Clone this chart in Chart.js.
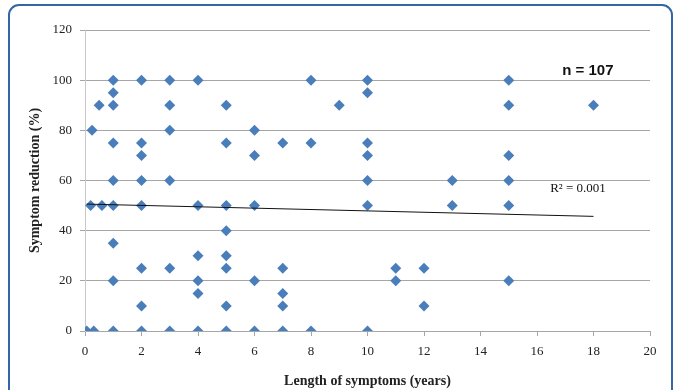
<!DOCTYPE html>
<html lang="en">
<head>
    <meta charset="UTF-8">
    <title>Symptom reduction vs length of symptoms</title>
    <style>
        * {
            margin: 0;
            padding: 0;
            box-sizing: border-box;
        }

        body {
            background-color: #fff;
            width: 676px;
            height: 390px;
            overflow: hidden;
            position: relative;
        }

        .frame {
            position: absolute;
            left: 8px;
            top: 4px;
            width: 665px;
            height: 420px;
            border: 2px solid #3465a4;
            border-radius: 11px;
        }

        canvas {
            position: absolute;
            left: 0;
            top: 0;
        }
    </style>
</head>
<body>
    <div class="frame"></div>
    <canvas id="scatterChart" width="676" height="390"></canvas>

    <script src="https://cdn.jsdelivr.net/npm/chart.js"></script>
    <script>
// years of symptoms and % symptom reduction
const lengthYears = [
    0.06, 0.31, 0.25, 0.2, 0.6, 0.5,
    1, 1, 1, 1, 1, 1, 1, 1, 1,
    2, 2, 2, 2, 2, 2, 2, 2,
    3, 3, 3, 3, 3, 3,
    4, 4, 4, 4, 4, 4,
    5, 5, 5, 5, 5, 5, 5, 5,
    6, 6, 6, 6, 6,
    7, 7, 7, 7, 7,
    8, 8, 8,
    9,
    10, 10, 10, 10, 10, 10, 10,
    11, 11,
    12, 12,
    13, 13,
    15, 15, 15, 15, 15, 15,
    18
];
const reduction = [
    0, 0, 80, 50, 50, 90,
    100, 95, 90, 75, 60, 50, 35, 20, 0,
    100, 75, 70, 60, 50, 25, 10, 0,
    100, 90, 80, 60, 25, 0,
    100, 50, 30, 20, 15, 0,
    90, 75, 50, 40, 30, 25, 10, 0,
    80, 70, 50, 20, 0,
    75, 25, 15, 10, 0,
    100, 75, 0,
    90,
    100, 95, 75, 70, 60, 50, 0,
    25, 20,
    25, 10,
    60, 50,
    100, 90, 70, 60, 50, 20,
    90
];

// linear trend line end points
const trendX = [0.06, 18];
const trendY = [50.6, 45.7];

const xTicks = [0, 2, 4, 6, 8, 10, 12, 14, 16, 18, 20];
const yTicks = [0, 20, 40, 60, 80, 100, 120];

const points = lengthYears.map((x, i) => ({ x: x, y: reduction[i] }));
const trend = trendX.map((x, i) => ({ x: x, y: trendY[i] }));

// text labels inside the plot
const notes = {
    id: 'notes',
    afterDatasetsDraw(chart) {
        const ctx = chart.ctx;
        const xs = chart.scales.x;
        const ys = chart.scales.y;
        ctx.save();
        ctx.fillStyle = '#111';
        ctx.textAlign = 'center';
        ctx.textBaseline = 'middle';
        ctx.font = 'bold 15px "Liberation Sans", Arial, sans-serif';
        ctx.fillText('n = 107', xs.getPixelForValue(17.8), ys.getPixelForValue(103.7));
        ctx.font = '13px "Liberation Serif", "Times New Roman", serif';
        ctx.fillText('R² = 0.001', xs.getPixelForValue(17.45), ys.getPixelForValue(56.6));
        ctx.restore();
    }
};

const ctx = document.getElementById('scatterChart').getContext('2d');
new Chart(ctx, {
    type: 'scatter',
    data: {
        datasets: [{
            label: 'Patients',
            data: points,
            pointStyle: 'rectRot',
            pointRadius: 5.5,
            pointHoverRadius: 5.5,
            backgroundColor: '#4a7ebb',
            borderColor: '#4a7ebb',
            borderWidth: 0,
            order: 2
        }, {
            label: 'Trend',
            type: 'line',
            data: trend,
            borderColor: '#111',
            borderWidth: 1,
            pointRadius: 0,
            fill: false,
            order: 1
        }]
    },
    options: {
        responsive: false,
        animation: false,
        events: [],
        layout: {
            padding: { top: 30, right: 26, bottom: 0, left: 0 }
        },
        plugins: {
            legend: { display: false },
            tooltip: { enabled: false }
        },
        scales: {
            x: {
                type: 'linear',
                min: 0,
                max: 20,
                afterBuildTicks: (scale) => { scale.ticks = xTicks.map(v => ({ value: v })); },
                afterFit: (scale) => { scale.height = 59; },
                grid: {
                    drawOnChartArea: false,
                    drawTicks: true,
                    tickLength: 5,
                    color: '#a6a6a6'
                },
                border: { color: '#a6a6a6' },
                ticks: {
                    padding: 8,
                    color: '#222',
                    font: { family: '"Liberation Serif", "Times New Roman", serif', size: 13 }
                },
                title: {
                    display: true,
                    text: 'Length of symptoms (years)',
                    color: '#222',
                    padding: { top: 0, bottom: 0 },
                    font: { family: '"Liberation Serif", "Times New Roman", serif', size: 14, weight: 'bold' }
                }
            },
            y: {
                type: 'linear',
                min: 0,
                max: 120,
                afterBuildTicks: (scale) => { scale.ticks = yTicks.map(v => ({ value: v })); },
                afterFit: (scale) => { scale.width = 85; },
                grid: {
                    drawTicks: true,
                    tickLength: 5,
                    color: '#a6a6a6'
                },
                border: { color: '#c8c8c8' },
                ticks: {
                    padding: 8,
                    color: '#222',
                    font: { family: '"Liberation Serif", "Times New Roman", serif', size: 13 }
                },
                title: {
                    display: true,
                    text: 'Symptom reduction (%)',
                    color: '#222',
                    padding: { top: 27, bottom: 0 },
                    font: { family: '"Liberation Serif", "Times New Roman", serif', size: 14, weight: 'bold' }
                }
            }
        }
    },
    plugins: [notes]
});
    </script>
</body>
</html>
